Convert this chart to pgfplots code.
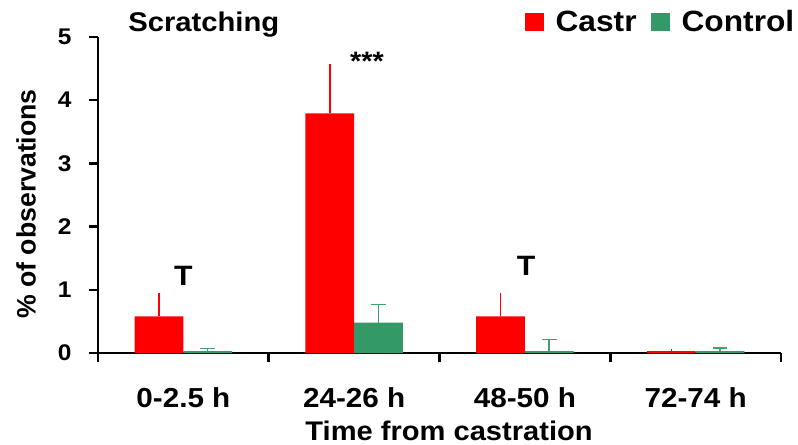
\documentclass[border=0pt]{standalone}
\usepackage{fontspec}
\setmainfont[FakeStretch=1.08]{Liberation Sans}
\newfontfamily\ylabfont{Liberation Sans}
\usepackage{pgfplots}
\pgfplotsset{compat=1.18}
\definecolor{castr}{HTML}{FF0000}
\definecolor{ctrl}{HTML}{339966}
\definecolor{ctrlerr}{HTML}{3FA072}
\begin{document}
\begin{tikzpicture}[x=1pt,y=1pt]
\useasboundingbox (0,0) rectangle (598.5,333);
\begin{axis}[
  at={(73.5pt,68.25pt)}, anchor=south west,
  scale only axis, width=512.25pt, height=237pt,
  xmin=-0.5, xmax=3.5, ymin=0, ymax=5,
  axis x line=bottom, axis y line=left,
  axis line style={line width=1.9pt, -},
  /pgf/number format/assume math mode=true,
  xtick={0,1,2,3},
  xticklabels={0-2.5 h,24-26 h,48-50 h,72-74 h},
  ytick={0,1,2,3,4,5},
  minor xtick={-0.5,0.5,1.5,2.5,3.5},
  tick align=outside,
  major tick length=7pt,
  minor tick length=7pt,
  tick style={line width=1.9pt, black},
  every major x tick/.append style={draw=none},
  xticklabel style={font=\fontsize{20.6}{24}\selectfont\bfseries, inner sep=0pt, anchor=north},
  xticklabel shift=19pt,
  yticklabel style={font=\fontsize{17}{20}\selectfont\bfseries, inner sep=0pt, anchor=east},
  yticklabel shift=12.7pt,
  xlabel={Time from castration},
  xlabel style={font=\fontsize{20.2}{24}\selectfont\bfseries, at={(axis description cs:0.514,-0.2753)}, anchor=base, inner sep=0pt},
  ylabel={\% of observations},
  ylabel style={font=\ylabfont\fontsize{20}{24}\selectfont\bfseries, at={(axis description cs:-0.1054,0.4715)}, anchor=center, inner sep=0pt},
  legend columns=2,
  legend image code/.code={\fill[#1] (0pt,-7pt) rectangle (14.25pt,7pt);},
  legend style={at={(axis description cs:0.6252,1.0475)}, anchor=west, draw=none, fill=none,
    inner sep=0pt, font=\fontsize{22}{26}\selectfont\bfseries,
    /tikz/every odd column/.append style={column sep=6.5pt},
    /tikz/every even column/.append style={column sep=9pt}},
]
\addplot[ybar, bar width=36.5pt, bar shift=0pt, fill=castr, draw=none,
  error bars/.cd, y dir=plus, y explicit, error mark=none,
  error bar style={line width=1.1pt, castr}]
  table[x=x, y=y, y error=e] {
x y e
-0.1425 0.58 0.37
0.8575 3.79 0.78
1.8575 0.58 0.37
2.8575 0.03 0.03
};
\addlegendentry{Castr}
\addplot[ybar, bar width=36.5pt, bar shift=0pt, fill=ctrl, draw=none,
  error bars/.cd, y dir=plus, y explicit, error mark=-,
  error mark options={rotate=90, line width=1.1pt, ctrlerr, mark size=5.6pt},
  error bar style={line width=1.1pt, ctrlerr}]
  table[x=x, y=y, y error=e] {
x y e
0.1425 0.03 0.04
1.1425 0.48 0.29
2.1425 0.03 0.18
3.1425 0.03 0.05
};
\addlegendentry{Control}
\node[font=\fontsize{21}{25}\selectfont\bfseries, inner sep=0pt] at (axis cs:0,1.22) {T};
\node[font=\fontsize{21}{25}\selectfont\bfseries, inner sep=0pt] at (axis cs:2.007,1.385) {T};
\node[font=\fontsize{20}{24}\selectfont\bfseries, inner sep=0pt, anchor=base] at (axis cs:1.075,4.465) {***};
\end{axis}
\node[anchor=base west, inner sep=0pt, font=\fontsize{20.3}{24}\selectfont\bfseries] at (96,309.4) {Scratching};
\end{tikzpicture}
\end{document}
